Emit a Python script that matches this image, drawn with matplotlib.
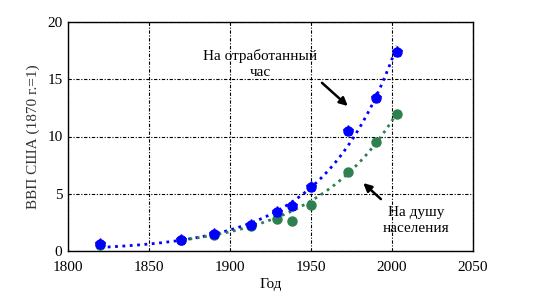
import numpy as np
import matplotlib.pyplot as plt

years = [1820, 1870, 1890, 1913, 1929, 1938, 1950, 1973, 1990, 2003]
per_hour = [0.6, 1.0, 1.5, 2.3, 3.4, 3.9, 5.6, 10.5, 13.4, 17.4]
per_capita = [0.55, 1.0, 1.4, 2.2, 2.8, 2.6, 4.0, 6.9, 9.5, 12.0]

blue = '#0000ff'
green = '#2e8050'

plt.rcParams['font.family'] = ['Liberation Serif', 'DejaVu Serif']

fig = plt.figure(figsize=(5.49, 2.93), dpi=100)
ax = fig.add_axes([68 / 549, 1 - 251 / 293, 405 / 549, 229 / 293])


def exp_fit(x, y, power=0):
    # exponential trend fitted on log values (points from 1870 on)
    x = np.asarray(x, dtype=float)
    y = np.asarray(y, dtype=float)
    b, a = np.polyfit(x - 1900, np.log(y), 1, w=y ** power)
    return lambda t: np.exp(a + b * (t - 1900))


f1 = exp_fit(years[1:], per_hour[1:])
t1 = np.linspace(1820, 2003, 200)
ax.plot(t1, f1(t1), color=blue, ls=':', lw=2)

f2 = exp_fit(years[1:], per_capita[1:], power=2)
t2 = np.linspace(1875, 2003, 200)
ax.plot(t2, f2(t2), color=green, ls=':', lw=2)

ax.plot(years, per_capita, 'o', color=green, ms=6.5, mec=green)
ax.plot(years, per_hour, 'o', color=blue, ms=6.5, mec=blue)
ax.plot(years, per_hour, '*', color=blue, ms=8)

ax.set_xlim(1800, 2050)
ax.set_ylim(0, 20)
ax.set_xticks([1800, 1850, 1900, 1950, 2000, 2050])
ax.set_yticks([0, 5, 10, 15, 20])
ax.grid(True, color='black', lw=0.8, ls=(0, (3, 1.5, 1, 1.5)))
ax.tick_params(axis='x', direction='in', length=0, labelsize=11, pad=7)
ax.tick_params(axis='y', direction='in', length=0, labelsize=11, pad=4)
for s in ax.spines.values():
    s.set_linewidth(1)

ax.set_xlabel('Год', fontsize=11, labelpad=3)
ax.set_ylabel('ВВП США (1870 г.=1)', fontsize=11, labelpad=5, color='#333333')

ax.text(1918.5, 16.3, 'На отработанный\nчас', ha='center', va='center', fontsize=11,
        linespacing=1.3)
ax.annotate('', xy=(1974, 12.5), xytext=(1955.5, 14.85),
            arrowprops=dict(arrowstyle='-|>', color='black', lw=1.8, mutation_scale=12))
ax.text(2014.8, 2.7, 'На душу\nнаселения', ha='center', va='center', fontsize=11,
        linespacing=1.3)
ax.annotate('', xy=(1981, 6.1), xytext=(1994.4, 4.37),
            arrowprops=dict(arrowstyle='-|>', color='black', lw=1.8, mutation_scale=12))

fig.savefig('out.png', dpi=100)
